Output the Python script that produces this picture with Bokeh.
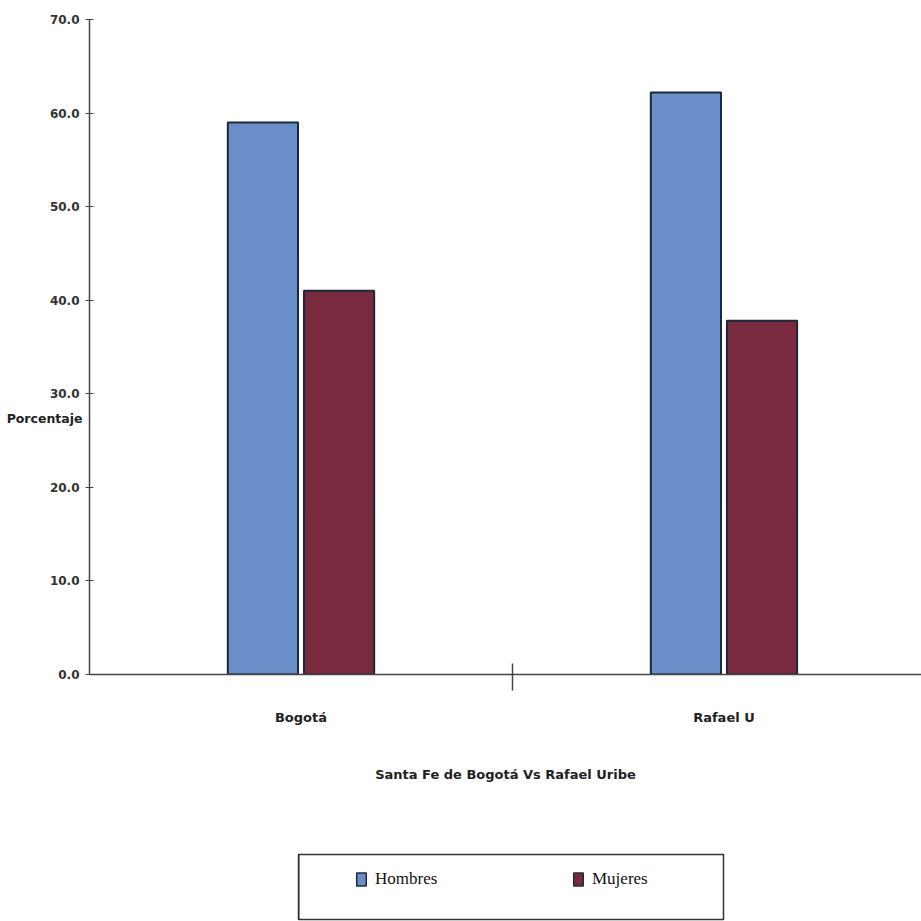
from bokeh.plotting import figure
from bokeh.models import (FixedTicker, NumeralTickFormatter, Range1d, Legend, LegendItem,
                          LinearAxis, ColumnDataSource, Spacer)
from bokeh.layouts import column, row
from bokeh.embed import file_html
from bokeh.resources import INLINE

categories = ["Bogotá", "Rafael U"]
series = ["Hombres", "Mujeres"]
hombres = [59.0, 62.2]
mujeres = [41.0, 37.8]
y_ticks = [0, 10, 20, 30, 40, 50, 60, 70]

x_label = "Santa Fe de Bogotá Vs Rafael Uribe"
y_label = "Porcentaje"
y_label_pos = 27.4

colors = ["#6a8fc8", "#7a2a3e"]
edge = "#1e2836"

centers = [i + 0.5 for i in range(len(categories))]
off = 0.09
bw = 0.166

src_h = ColumnDataSource(dict(x=[c - off for c in centers], top=hombres))
src_m = ColumnDataSource(dict(x=[c + off for c in centers], top=mujeres))

p = figure(width=921, height=853, x_range=Range1d(0, 1.967), y_range=Range1d(0, 70),
           output_backend="svg", toolbar_location=None,
           min_border_left=89, min_border_right=0, min_border_top=19, min_border_bottom=179)
p.outline_line_color = None
p.xgrid.grid_line_color = None
p.ygrid.grid_line_color = None

p.vbar(x="x", top="top", width=bw, source=src_h, fill_color=colors[0],
       line_color=edge, line_width=2)
p.vbar(x="x", top="top", width=bw, source=src_m, fill_color=colors[1],
       line_color=edge, line_width=2)

FONT = "DejaVu Sans"

# x axis
xa = p.xaxis[0]
xa.ticker = FixedTicker(ticks=centers, minor_ticks=[1.0])
xa.major_label_overrides = {c: cat for c, cat in zip(centers, categories)}
xa.major_tick_line_color = None
xa.major_tick_out = 0
xa.major_tick_in = 0
xa.minor_tick_line_color = "#444444"
xa.minor_tick_line_width = 1.5
xa.minor_tick_out = 16
xa.minor_tick_in = 11
xa.axis_line_color = "#444444"
xa.axis_line_width = 1.5
xa.major_label_standoff = 19
xa.major_label_text_font = FONT
xa.major_label_text_font_style = "bold"
xa.major_label_text_font_size = "13px"
xa.major_label_text_color = "#222222"
xa.axis_label = x_label
xa.axis_label_standoff = 39
xa.axis_label_text_font = FONT
xa.axis_label_text_font_size = "13px"
xa.axis_label_text_font_style = "bold"
xa.axis_label_text_color = "#222222"

# y axis
ya = p.yaxis[0]
ya.ticker = FixedTicker(ticks=y_ticks)
ya.formatter = NumeralTickFormatter(format="0.0")
ya.minor_tick_line_color = None
ya.major_tick_out = 4
ya.major_tick_in = 4
ya.major_tick_line_color = "#444444"
ya.axis_line_color = "#444444"
ya.axis_line_width = 1.5
ya.major_label_standoff = 6
ya.major_label_text_font = FONT
ya.major_label_text_font_style = "bold"
ya.major_label_text_font_size = "12px"
ya.major_label_text_color = "#333333"

# horizontal y-axis title, drawn as a second (label-only) axis
ya2 = LinearAxis(ticker=FixedTicker(ticks=[y_label_pos]),
                 major_label_overrides={y_label_pos: y_label},
                 axis_line_color=None, major_tick_line_color=None, minor_tick_line_color=None,
                 major_tick_out=0, major_tick_in=0, major_label_standoff=-36,
                 major_label_text_font=FONT, major_label_text_font_style="bold",
                 major_label_text_font_size="12.5px", major_label_text_color="#222222")
p.add_layout(ya2, "left")

# legend panel (boxed)
p2 = figure(width=428, height=68, x_range=Range1d(0, 1), y_range=Range1d(0, 1),
            output_backend="svg", toolbar_location=None,
            x_axis_type=None, y_axis_type=None,
            min_border_left=1, min_border_right=2, min_border_top=1, min_border_bottom=2)
p2.xgrid.grid_line_color = None
p2.ygrid.grid_line_color = None
p2.outline_line_color = "#333333"
p2.outline_line_width = 1.5
# swatch-only renderers placed outside the visible range
lh = p2.vbar(x=[-5], top=[1], width=0.1, fill_color=colors[0], line_color=edge, line_width=1.5)
lm = p2.vbar(x=[-5], top=[1], width=0.1, fill_color=colors[1], line_color=edge, line_width=1.5)

legend = Legend(items=[LegendItem(label=series[0], renderers=[lh]),
                       LegendItem(label=series[1], renderers=[lm])],
                orientation="horizontal", location=(57, 30),
                border_line_color=None, background_fill_alpha=0,
                padding=0, margin=0, spacing=122, glyph_width=12, glyph_height=16,
                label_standoff=8, label_width=75,
                label_text_font="Liberation Serif", label_text_font_size="17px",
                label_text_color="#111111")
p2.add_layout(legend, "center")

layout = column(p, row(Spacer(width=297, height=68), p2))

open("out.html", "w").write(file_html(layout, INLINE))
